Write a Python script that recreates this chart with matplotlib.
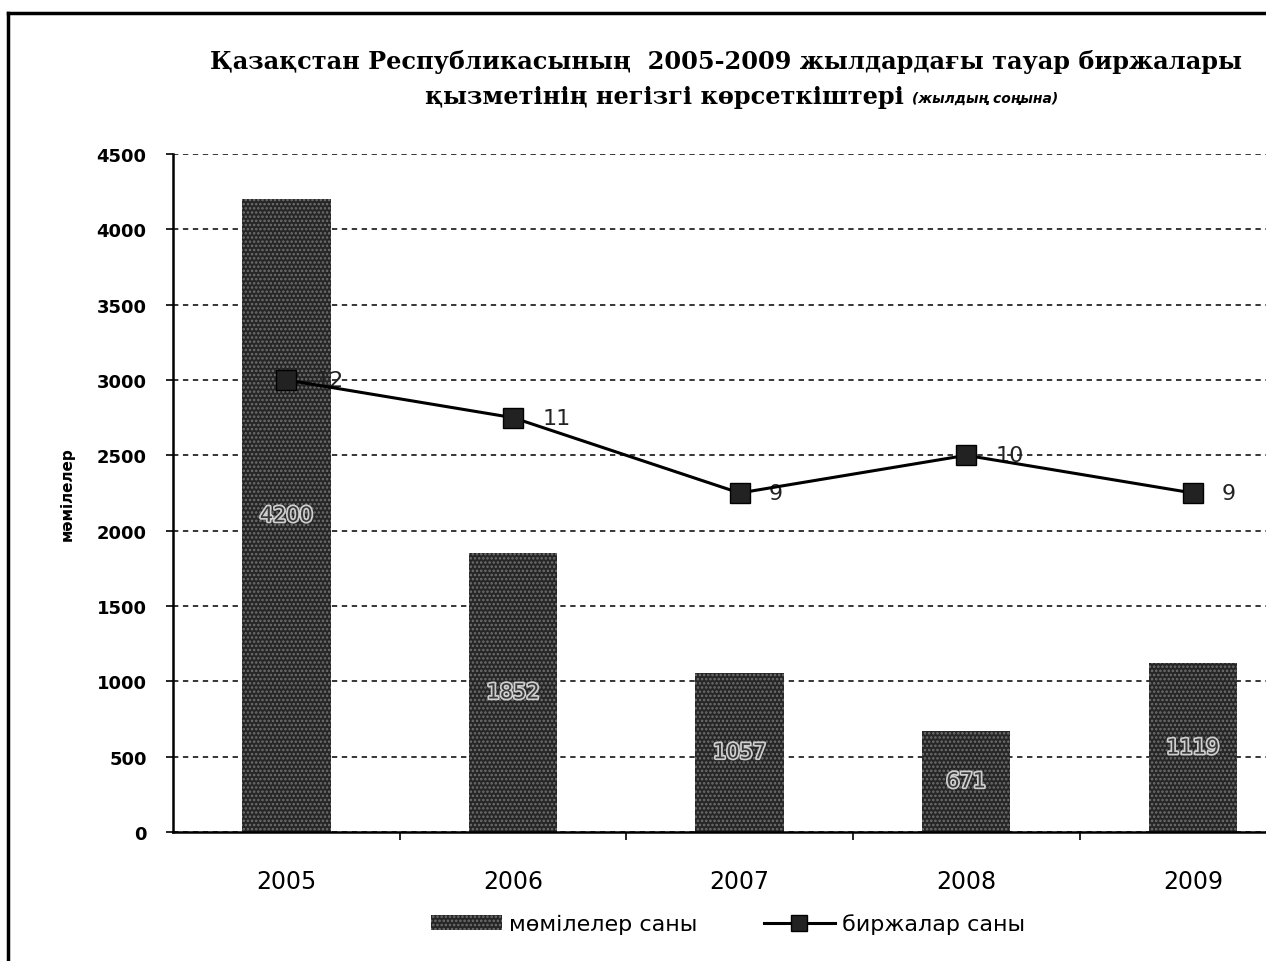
import numpy as np
import matplotlib
matplotlib.use('Agg')
import matplotlib.pyplot as plt
import matplotlib.patheffects as pe
from matplotlib.lines import Line2D
from matplotlib.patches import Patch

# data
years = ['2005', '2006', '2007', '2008', '2009']
deals = [4200, 1852, 1057, 671, 1119]      # мәмілелер саны
exchanges = [12, 11, 9, 10, 9]             # биржалар саны

plt.rcParams['hatch.linewidth'] = 1.2

fig = plt.figure(figsize=(12.66, 9.62), dpi=100)
ax = fig.add_axes([0.1367, 0.1341, 0.895, 0.7048])

x = np.arange(len(years))

# bars
bars = ax.bar(x, deals, width=0.39, color='#262626', hatch='....',
              edgecolor='#707070', linewidth=0, zorder=2)
for xi, v in zip(x, deals):
    ax.text(xi, v / 2, str(v), ha='center', va='center', fontsize=15,
            color='#3a3a3a', zorder=4,
            path_effects=[pe.withStroke(linewidth=2.5, foreground='#d0d0d0')])

ax.set_xlim(-0.5, 4.5)
ax.set_ylim(0, 4500)
ax.set_yticks(np.arange(0, 4501, 500))
ax.set_yticklabels([str(v) for v in range(0, 4501, 500)],
                   fontsize=13, fontweight='bold')
ax.tick_params(axis='y', length=5, width=1.2, pad=14)

# category boundaries get tick marks, years are labelled in between
ax.set_xticks(np.arange(0.5, 4.6, 1))
ax.set_xticklabels([])
ax.set_xticks(x, minor=True)
ax.set_xticklabels(years, minor=True, fontsize=17)
ax.tick_params(axis='x', which='major', length=6, width=1.2, direction='out')
ax.tick_params(axis='x', which='minor', length=0, pad=27)

ax.yaxis.grid(True, linestyle=(0, (3.5, 3)), color='black', linewidth=1.1)
ax.set_axisbelow(True)
for s in ['top', 'right']:
    ax.spines[s].set_visible(False)
ax.spines['left'].set_linewidth(1.8)
ax.spines['bottom'].set_linewidth(1.8)

ax.set_ylabel('мәмілелер', fontsize=11, fontweight='bold', labelpad=16)

# line on hidden secondary axis
ax2 = ax.twinx()
ax2.set_ylim(0, 18)
ax2.plot(x, exchanges, color='black', linewidth=2.2, marker='s',
         markersize=14, markerfacecolor='#222222', markeredgecolor='black',
         zorder=5)
for xi, v in zip(x, exchanges):
    ax2.annotate(str(v), (xi, v), xytext=(21, 0), textcoords='offset points',
                 ha='left', va='center', fontsize=16, color='#222222')
ax2.axis('off')

# title
t1 = fig.text(210 / 1266, 1 - 62 / 962,
              'Қазақстан Республикасының  2005-2009 жылдардағы тауар биржалары',
              ha='left', va='center', fontsize=17.3, fontweight='bold',
              family='DejaVu Serif')
t2 = fig.text(425 / 1266, 1 - 97 / 962, 'қызметінің негізгі көрсеткіштері',
              ha='left', va='center', fontsize=17.3, fontweight='bold',
              family='DejaVu Serif')
fig.canvas.draw()
bb = t2.get_window_extent()
fig.text((bb.x1 + 8) / 1266, 1 - 99 / 962, '(жылдың соңына)',
         ha='left', va='center', fontsize=10, fontweight='bold',
         style='italic')

# legend
handles = [Patch(facecolor='#262626', hatch='....', edgecolor='#707070',
                 linewidth=0),
           Line2D([], [], color='black', linewidth=2.2, marker='s',
                  markersize=12, markerfacecolor='#222222')]
fig.legend(handles, ['мөмілелер саны', 'биржалар саны'], ncol=2,
           loc='center', bbox_to_anchor=(0.575, 1 - 925 / 962),
           frameon=False, fontsize=16, handlelength=3.2, handletextpad=0.3,
           columnspacing=3.0)

# outer frame
fig.add_artist(Line2D([8 / 1266, 8 / 1266], [0, 1 - 14 / 962],
                      color='black', linewidth=2.5))
fig.add_artist(Line2D([8 / 1266, 1], [1 - 14 / 962, 1 - 14 / 962],
                      color='black', linewidth=2.5))

fig.savefig('out.png', dpi=100)
